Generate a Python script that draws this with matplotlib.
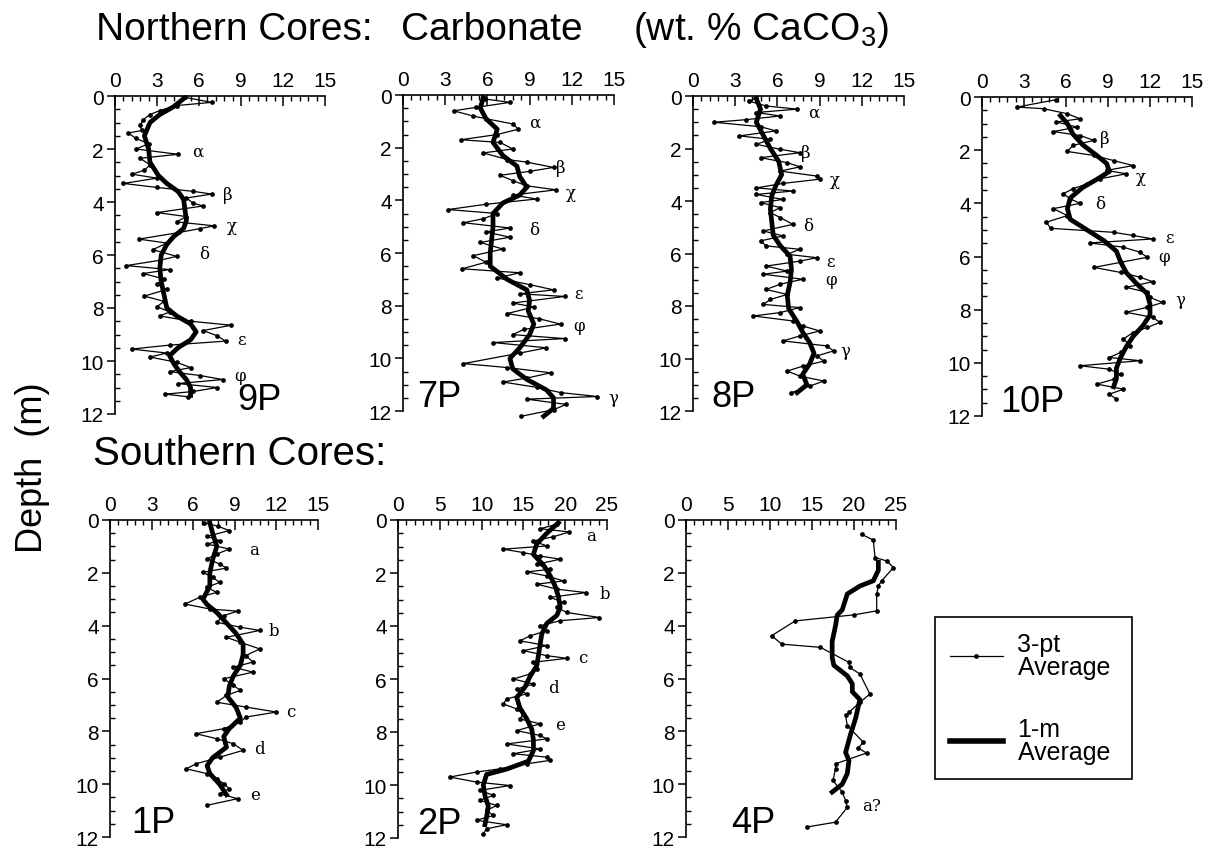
import matplotlib
matplotlib.use("Agg")
import matplotlib.pyplot as plt
from matplotlib.lines import Line2D
from matplotlib.ticker import MultipleLocator

# ---- data (carbonate wt.% vs depth in m) ----

# 9P
p9_depth = [0.05, 0.24, 0.36, 0.55, 0.7, 0.9, 1.1, 1.3, 1.4, 1.6, 1.8, 2.0, 2.2, 2.35,
            2.6, 2.8, 2.95, 3.1, 3.3, 3.45, 3.6, 3.7, 3.85, 4.05, 4.15, 4.4, 4.55, 4.75,
            4.9, 5.0, 5.15, 5.4, 5.55, 5.8, 6.05, 6.2, 6.4, 6.55, 6.7, 6.9, 7.1, 7.3,
            7.55, 7.75, 7.95, 8.15, 8.3, 8.5, 8.65, 8.85, 9.05, 9.25, 9.4, 9.55, 9.7,
            9.85, 10.05, 10.25, 10.4, 10.55, 10.7, 10.85, 11.0, 11.15, 11.25, 11.35]
p9_carb = [5.0, 6.9, 4.4, 3.2, 2.5, 2.0, 1.8, 1.9, 0.95, 1.5, 2.4, 1.5, 4.5, 1.8,
           2.5, 2.1, 1.2, 3.0, 0.6, 3.0, 5.6, 6.9, 5.1, 5.6, 6.3, 3.0, 5.1, 4.4,
           7.1, 6.1, 4.6, 1.7, 3.7, 2.7, 4.4, 3.2, 0.8, 3.9, 2.0, 3.5, 3.0, 3.7,
           2.1, 3.5, 3.0, 3.9, 3.2, 5.4, 8.3, 6.3, 7.3, 7.9, 3.9, 1.2, 3.7,
           2.5, 4.4, 5.4, 3.9, 6.1, 7.7, 4.5, 7.3, 5.6, 3.6, 5.2]
p9_avg_depth = [0.1, 0.4, 0.7, 1.0, 1.5, 2.0, 2.5, 3.0, 3.3, 3.6, 3.9, 4.3, 4.7, 5.0,
                5.3, 5.6, 6.0, 6.5, 7.0, 7.5, 8.0, 8.3, 8.6, 8.9, 9.2, 9.5, 9.8, 10.1,
                10.4, 10.7, 11.0, 11.3]
p9_avg_carb = [4.9, 4.2, 3.2, 2.5, 2.1, 2.4, 2.5, 3.1, 3.7, 4.5, 4.9, 5.0, 5.1, 4.9,
               4.2, 3.7, 3.3, 3.2, 3.3, 3.5, 3.7, 4.4, 5.4, 5.8, 5.4, 4.5, 3.9, 4.2,
               4.6, 5.1, 5.4, 5.4]
p9_marks = ['α', 'β', 'χ', 'δ', 'ε', 'φ']
p9_mark_x = [5.5, 7.7, 8.0, 6.0, 8.7, 8.5]
p9_mark_depth = [2.1, 3.7, 4.9, 5.95, 9.2, 10.55]

# 7P
p7_depth = [0.15, 0.28, 0.47, 0.6, 0.8, 0.9, 1.1, 1.3, 1.5, 1.7, 1.8, 2.05, 2.2, 2.45,
            2.55, 2.75, 2.9, 3.05, 3.25, 3.45, 3.6, 3.8, 3.95, 4.15, 4.35, 4.5, 4.7,
            4.85, 5.05, 5.2, 5.4, 5.6, 5.85, 6.1, 6.35, 6.6, 6.75, 6.95, 7.2, 7.4,
            7.55, 7.65, 7.9, 8.05, 8.3, 8.5, 8.7, 8.9, 9.1, 9.25, 9.4, 9.6, 9.8,
            10.2, 10.35, 10.55, 10.75, 10.9, 11.1, 11.3, 11.45, 11.55, 11.75, 11.95, 12.2]
p7_carb = [5.8, 7.6, 5.2, 3.6, 5.0, 5.9, 7.8, 8.2, 6.7, 4.1, 6.9, 7.8, 5.7, 7.4,
           8.8, 10.7, 9.0, 6.9, 7.8, 8.8, 10.9, 7.8, 9.5, 5.9, 3.2, 6.7, 5.7,
           4.3, 7.6, 5.9, 7.6, 5.5, 7.1, 5.0, 5.9, 4.2, 8.3, 6.7, 9.0, 10.7,
           8.3, 11.5, 7.8, 9.3, 7.4, 9.7, 11.2, 8.6, 7.8, 11.5, 6.4, 10.2, 8.3,
           4.3, 7.4, 10.5, 8.8, 7.1, 9.5, 11.2, 13.8, 8.8, 11.6, 10.7, 8.4]
p7_avg_depth = [0.1, 0.5, 0.9, 1.3, 1.8, 2.3, 2.7, 3.1, 3.5, 3.8, 4.1, 4.5, 5.0, 5.5,
                6.0, 6.5, 7.0, 7.4, 7.8, 8.2, 8.7, 9.1, 9.6, 10.0, 10.4, 10.8, 11.2,
                11.5, 11.9, 12.2]
p7_avg_carb = [5.7, 5.5, 5.9, 6.7, 6.4, 7.1, 8.1, 8.3, 8.8, 8.3, 7.1, 6.4, 6.4, 6.3,
               6.2, 6.2, 7.4, 8.8, 9.0, 8.9, 9.3, 9.0, 8.3, 7.6, 7.8, 8.8, 10.2,
               10.7, 10.7, 10.0]
p7_marks = ['α', 'β', 'χ', 'δ', 'ε', 'φ', 'γ']
p7_mark_x = [9.0, 10.9, 11.6, 9.0, 12.2, 12.1, 14.6]
p7_mark_depth = [1.05, 2.75, 3.7, 5.1, 7.55, 8.75, 11.5]

# 8P
p8_depth = [0.06, 0.2, 0.38, 0.5, 0.63, 0.76, 0.9, 1.0, 1.17, 1.33, 1.52, 1.65, 1.84,
            2.03, 2.16, 2.35, 2.54, 2.7, 2.86, 3.05, 3.17, 3.33, 3.5, 3.62, 3.75,
            3.94, 4.06, 4.25, 4.44, 4.63, 4.89, 5.14, 5.33, 5.52, 5.71, 5.84, 6.03,
            6.16, 6.29, 6.48, 6.67, 6.79, 6.98, 7.17, 7.37, 7.56, 7.75, 7.94, 8.06,
            8.25, 8.38, 8.57, 8.76, 8.95, 9.14, 9.33, 9.52, 9.71, 9.9, 10.1, 10.29,
            10.48, 10.67, 10.86, 11.05, 11.3]
p8_carb = [4.5, 4.0, 5.2, 7.4, 4.5, 6.2, 3.8, 1.5, 4.8, 5.9, 3.3, 5.5, 4.5,
           6.2, 7.6, 4.8, 6.7, 7.6, 6.2, 8.8, 9.0, 6.4, 4.5, 7.1, 4.5,
           6.4, 4.8, 6.2, 5.5, 6.2, 7.1, 5.0, 6.4, 4.8, 5.2, 7.6, 6.7,
           8.8, 7.6, 5.2, 6.7, 5.0, 7.8, 6.2, 5.2, 6.7, 5.5, 5.0, 7.6,
           6.2, 4.3, 7.1, 7.8, 9.0, 7.6, 6.4, 9.5, 10.0, 8.8, 9.3, 7.8,
           6.7, 7.6, 9.3, 8.3, 7.0]
p8_avg_depth = [0.1, 0.5, 1.0, 1.5, 2.0, 2.5, 3.0, 3.4, 3.8, 4.3, 4.8, 5.3, 5.7, 6.1,
                6.6, 7.1, 7.6, 8.1, 8.6, 9.0, 9.4, 9.8, 10.2, 10.6, 11.0, 11.3]
p8_avg_carb = [4.5, 4.8, 4.5, 5.0, 5.5, 6.1, 6.3, 5.9, 5.6, 5.5, 5.6, 5.7, 6.2, 6.9,
               7.0, 6.9, 6.7, 6.8, 7.4, 7.8, 8.3, 8.6, 8.3, 7.8, 8.1, 7.4]
p8_marks = ['α', 'β', 'χ', 'δ', 'ε', 'φ', 'γ']
p8_mark_x = [8.2, 7.7, 9.7, 7.8, 9.5, 9.4, 10.5]
p8_mark_depth = [0.63, 2.16, 3.17, 4.95, 6.3, 7.0, 9.7]

# 10P
p10_depth = [0.1, 0.38, 0.44, 0.63, 0.82, 0.94, 1.13, 1.3, 1.45, 1.63, 1.82, 2.05,
             2.2, 2.39, 2.58, 2.76, 2.89, 3.08, 3.27, 3.45, 3.64, 3.83, 4.0, 4.2,
             4.46, 4.71, 4.94, 5.09, 5.21, 5.34, 5.49, 5.65, 5.84, 6.03, 6.22, 6.41,
             6.6, 6.78, 6.95, 7.16, 7.35, 7.54, 7.73, 7.91, 8.1, 8.29, 8.48, 8.67,
             8.86, 9.1, 9.36, 9.61, 9.8, 9.92, 10.11, 10.24, 10.43, 10.62, 10.8,
             10.99, 11.18, 11.37]
p10_carb = [5.3, 2.5, 4.4, 6.1, 7.0, 5.3, 6.8, 5.1, 7.0, 8.0, 6.5, 6.1,
            8.0, 9.4, 10.8, 8.9, 10.3, 8.4, 7.5, 6.5, 5.8, 6.3, 7.0, 5.1,
            6.1, 4.6, 4.9, 9.4, 10.8, 12.2, 7.7, 10.1, 11.3, 11.8, 9.9, 8.0,
            9.9, 11.3, 12.2, 10.3, 11.8, 12.0, 12.9, 11.8, 10.3, 12.2, 12.7, 11.8,
            10.8, 10.1, 10.6, 9.9, 9.1, 11.3, 7.0, 9.1, 9.9, 9.4, 8.2,
            10.1, 9.1, 9.6]
p10_avg_depth = [0.7, 1.0, 1.4, 1.8, 2.2, 2.5, 2.8, 3.1, 3.4, 3.8, 4.2, 4.6, 5.0, 5.4,
                 5.8, 6.2, 6.6, 7.0, 7.4, 7.8, 8.2, 8.6, 9.0, 9.4, 9.8, 10.2, 10.6, 10.9]
p10_avg_carb = [5.6, 6.1, 6.5, 7.2, 8.2, 8.9, 9.1, 8.2, 7.2, 6.3, 6.1, 6.3, 7.5, 8.7,
                9.6, 9.9, 10.3, 11.0, 11.8, 12.0, 12.0, 11.5, 10.8, 10.3, 9.9, 9.6,
                9.6, 9.4]
p10_marks = ['β', 'χ', 'δ', 'ε', 'φ', 'γ']
p10_mark_x = [8.4, 11.0, 8.1, 13.1, 12.6, 13.8]
p10_mark_depth = [1.55, 3.0, 4.0, 5.3, 6.0, 7.6]

# 1P
p1_depth = [0.11, 0.24, 0.4, 0.62, 0.78, 0.91, 1.1, 1.29, 1.47, 1.66, 1.82, 1.98,
            2.17, 2.36, 2.55, 2.74, 2.92, 3.18, 3.37, 3.45, 3.62, 3.87, 4.06, 4.18,
            4.44, 4.63, 4.88, 5.13, 5.38, 5.57, 5.76, 6.01, 6.26, 6.45, 6.64, 6.9,
            7.08, 7.27, 7.46, 7.65, 7.9, 8.09, 8.28, 8.47, 8.72, 8.98, 9.23, 9.42,
            9.6, 9.79, 9.98, 10.17, 10.36, 10.55, 10.8]
p1_carb = [6.8, 7.8, 8.6, 7.0, 7.9, 7.0, 8.6, 7.7, 7.0, 7.9, 8.4, 6.7,
           7.4, 7.9, 7.0, 7.7, 6.5, 5.4, 7.2, 9.2, 8.2, 7.7, 9.4, 10.8,
           8.4, 9.4, 10.8, 9.8, 10.3, 8.9, 10.3, 8.2, 8.9, 9.4, 8.4, 7.7,
           9.8, 12.0, 9.8, 9.4, 8.2, 6.2, 7.7, 8.9, 9.6, 7.9, 6.2, 5.5,
           7.0, 7.7, 8.2, 8.6, 7.9, 9.2, 7.0]
p1_avg_depth = [0.1, 0.5, 1.0, 1.5, 2.0, 2.5, 3.0, 3.2, 3.5, 3.9, 4.3, 4.7, 5.1, 5.5,
                5.9, 6.3, 6.7, 7.1, 7.5, 7.9, 8.2, 8.6, 9.0, 9.3, 9.6, 10.0, 10.4]
p1_avg_carb = [7.2, 7.4, 7.7, 7.4, 7.2, 7.2, 6.7, 7.0, 7.7, 8.4, 9.1, 9.6, 9.6, 9.4,
               8.9, 8.6, 8.5, 9.1, 9.4, 8.6, 8.2, 8.4, 7.4, 7.0, 7.2, 7.9, 8.4]
p1_marks = ['a', 'b', 'c', 'd', 'e']
p1_mark_x = [10.0, 11.4, 12.7, 10.4, 10.1]
p1_mark_depth = [1.1, 4.2, 7.25, 8.65, 10.4]

# 2P
p2_depth = [0.16, 0.33, 0.45, 0.63, 0.79, 0.98, 1.1, 1.23, 1.36, 1.48, 1.67, 1.86,
            1.96, 2.11, 2.3, 2.42, 2.61, 2.74, 2.92, 3.11, 3.3, 3.49, 3.68, 3.8,
            3.99, 4.18, 4.37, 4.56, 4.74, 4.93, 5.12, 5.22, 5.37, 5.62, 5.81, 6.0,
            6.19, 6.38, 6.56, 6.75, 6.94, 7.13, 7.32, 7.51, 7.69, 7.95, 8.13, 8.26,
            8.45, 8.64, 8.82, 8.95, 9.07, 9.2, 9.39, 9.51, 9.7, 9.89, 10.02, 10.2,
            10.39, 10.58, 10.77, 10.96, 11.15, 11.33, 11.5, 11.65, 11.84]
p2_carb = [19.0, 17.0, 20.5, 18.6, 16.2, 17.8, 12.6, 15.0, 17.0, 19.4, 16.6, 18.2,
           15.4, 17.8, 19.8, 16.6, 19.0, 22.5, 18.2, 19.8, 19.0, 20.2, 24.1, 19.4,
           17.0, 17.8, 15.8, 14.6, 17.8, 15.0, 17.8, 20.2, 16.2, 16.6, 15.8, 13.8,
           16.2, 14.2, 15.4, 13.0, 12.6, 14.2, 15.0, 14.6, 17.0, 14.2, 17.0, 17.8,
           13.0, 17.0, 13.8, 17.8, 18.2, 15.4, 12.2, 9.4, 6.2, 9.4, 13.4, 9.8,
           11.4, 9.8, 11.8, 10.6, 11.4, 9.4, 13.0, 10.6, 10.2]
p2_avg_depth = [0.1, 0.5, 0.9, 1.3, 1.7, 2.1, 2.5, 2.9, 3.3, 3.6, 3.9, 4.3, 4.7, 5.1,
                5.5, 5.9, 6.3, 6.7, 7.1, 7.5, 7.9, 8.3, 8.7, 9.1, 9.4, 9.6, 10.0, 10.4,
                10.8, 11.2, 11.5]
p2_avg_carb = [19.2, 17.8, 16.6, 16.2, 17.4, 18.2, 18.8, 19.2, 19.4, 19.0, 17.8, 17.2,
               17.0, 16.8, 16.6, 15.8, 15.2, 14.2, 14.6, 15.4, 16.0, 16.2, 16.2, 15.6,
               13.0, 10.6, 10.2, 10.4, 10.8, 10.6, 10.4]
p2_marks = ['a', 'b', 'c', 'd', 'e']
p2_mark_x = [22.5, 24.1, 21.5, 18.0, 18.8]
p2_mark_depth = [0.58, 2.76, 5.2, 6.33, 7.7]

# 4P
p4_depth = [0.54, 0.76, 1.42, 1.55, 1.8, 2.3, 2.49, 2.81, 3.44, 3.59, 3.82, 4.38,
            4.7, 4.82, 5.39, 5.58, 5.83, 6.59, 6.9, 7.28, 7.4, 7.78, 8.41, 8.64,
            8.82, 9.23, 9.42, 9.86, 10.3, 10.62, 10.88, 11.44, 11.62]
p4_carb = [20.9, 22.3, 22.5, 23.9, 24.7, 23.3, 22.9, 22.7, 22.7, 20.0, 13.0, 10.2,
           11.4, 16.0, 19.4, 19.5, 20.7, 21.9, 20.7, 19.4, 19.0, 19.2, 21.1, 20.5,
           21.5, 17.8, 17.8, 17.5, 18.6, 19.0, 19.2, 17.8, 14.4]
p4_avg_depth = [1.6, 1.9, 2.3, 2.5, 2.8, 3.4, 3.6, 4.0, 4.6, 5.2, 5.5, 5.9, 6.2, 6.5,
                6.8, 7.5, 8.1, 8.8, 9.1, 9.6, 10.0, 10.3]
p4_avg_carb = [22.9, 22.9, 22.3, 20.7, 19.2, 18.6, 18.0, 17.8, 17.4, 17.4, 17.6, 19.2,
               19.8, 19.8, 20.7, 20.2, 19.6, 19.0, 19.4, 19.2, 18.6, 17.4]
p4_marks = ['a?']
p4_mark_x = [21.0]
p4_mark_depth = [10.8]

# ---- figure ----
plt.rcParams['font.family'] = ['Liberation Sans', 'DejaVu Sans']
plt.rcParams['mathtext.fontset'] = 'custom'
plt.rcParams['mathtext.rm'] = 'Liberation Sans'

W, H = 1218, 853
fig = plt.figure(figsize=(W / 100, H / 100), dpi=100)


def px_box(left, top, right, bottom):
    """Axes box from pixel edges (top-left origin)."""
    return [left / W, 1 - bottom / H, (right - left) / W, (bottom - top) / H]


def draw_core(box, xmax, xstep, depth, carb, avg_depth, avg_carb,
              name, name_x, marks, mark_x, mark_depth):
    ax = fig.add_axes(box)
    ax.plot(carb, depth, color='black', lw=0.9, marker='o', ms=2.4, clip_on=False)
    ax.plot(avg_carb, avg_depth, color='black', lw=3.4, clip_on=False)
    ax.set_xlim(0, xmax)
    ax.set_ylim(12, 0)
    ax.patch.set_alpha(0)

    for side in ('right', 'bottom'):
        ax.spines[side].set_visible(False)
    for side in ('left', 'top'):
        ax.spines[side].set_linewidth(1.2)

    ax.xaxis.tick_top()
    ax.xaxis.set_major_locator(MultipleLocator(xstep))
    ax.xaxis.set_minor_locator(MultipleLocator(xstep / 5))
    ax.yaxis.set_major_locator(MultipleLocator(2))
    ax.yaxis.set_minor_locator(MultipleLocator(0.5))
    ax.tick_params(axis='x', which='major', direction='in', length=7, width=1.1,
                   labelsize=15, pad=4)
    ax.tick_params(axis='x', which='minor', direction='in', length=3.5, width=1)
    ax.tick_params(axis='y', which='major', direction='out', length=6, width=1.1,
                   labelsize=15, pad=2)
    ax.tick_params(axis='y', which='minor', direction='in', length=3.5, width=1)

    ax.text(name_x, 11.8, name, fontsize=26, ha='left', va='baseline')
    for m, mx, md in zip(marks, mark_x, mark_depth):
        ax.text(mx, md, m, fontsize=12, ha='left', va='center',
                family=['DejaVu Serif', 'DejaVu Sans'])
    return ax


draw_core(px_box(115, 97, 325, 415), 15, 3, p9_depth, p9_carb, p9_avg_depth, p9_avg_carb,
          '9P', 8.7, p9_marks, p9_mark_x, p9_mark_depth)
draw_core(px_box(403, 96, 614, 412), 15, 3, p7_depth, p7_carb, p7_avg_depth, p7_avg_carb,
          '7P', 1.0, p7_marks, p7_mark_x, p7_mark_depth)
draw_core(px_box(693, 97, 904, 412), 15, 3, p8_depth, p8_carb, p8_avg_depth, p8_avg_carb,
          '8P', 1.3, p8_marks, p8_mark_x, p8_mark_depth)
draw_core(px_box(982, 98, 1192, 417), 15, 3, p10_depth, p10_carb, p10_avg_depth, p10_avg_carb,
          '10P', 1.3, p10_marks, p10_mark_x, p10_mark_depth)
draw_core(px_box(110, 521, 318, 838), 15, 3, p1_depth, p1_carb, p1_avg_depth, p1_avg_carb,
          '1P', 1.5, p1_marks, p1_mark_x, p1_mark_depth)
draw_core(px_box(398, 521, 607, 839), 25, 5, p2_depth, p2_carb, p2_avg_depth, p2_avg_carb,
          '2P', 2.3, p2_marks, p2_mark_x, p2_mark_depth)
draw_core(px_box(686, 521, 896, 838), 25, 5, p4_depth, p4_carb, p4_avg_depth, p4_avg_carb,
          '4P', 5.4, p4_marks, p4_mark_x, p4_mark_depth)

# titles
fig.text(96 / W, 1 - 40 / H, 'Northern Cores:', fontsize=28, ha='left', va='baseline')
fig.text(401 / W, 1 - 40 / H, 'Carbonate', fontsize=28, ha='left', va='baseline')
fig.text(633 / W, 1 - 40 / H, '(wt. % CaCO$\\mathregular{_3}$)', fontsize=28,
         ha='left', va='baseline')
fig.text(93 / W, 1 - 465 / H, 'Southern Cores:', fontsize=29, ha='left', va='baseline')
fig.text(33 / W, 1 - 468 / H, 'Depth  (m)', fontsize=26, rotation=90,
         ha='center', va='center')

handles = [Line2D([], [], color='black', lw=0.9, marker='o', ms=2.4),
           Line2D([], [], color='black', lw=4)]
leg = fig.legend(handles, ['3-pt\nAverage ', '1-m\nAverage '], loc='upper left',
                 bbox_to_anchor=(935 / W, 1 - 618 / H), numpoints=1, fontsize=18,
                 frameon=True, fancybox=False, edgecolor='black', framealpha=1,
                 handlelength=2.1, handletextpad=0.6, labelspacing=1.5,
                 borderpad=0.6, borderaxespad=0)
leg.get_frame().set_linewidth(1.2)
for t in leg.get_texts():
    t.set_linespacing(0.95)

fig.savefig('out.png', dpi=100)
